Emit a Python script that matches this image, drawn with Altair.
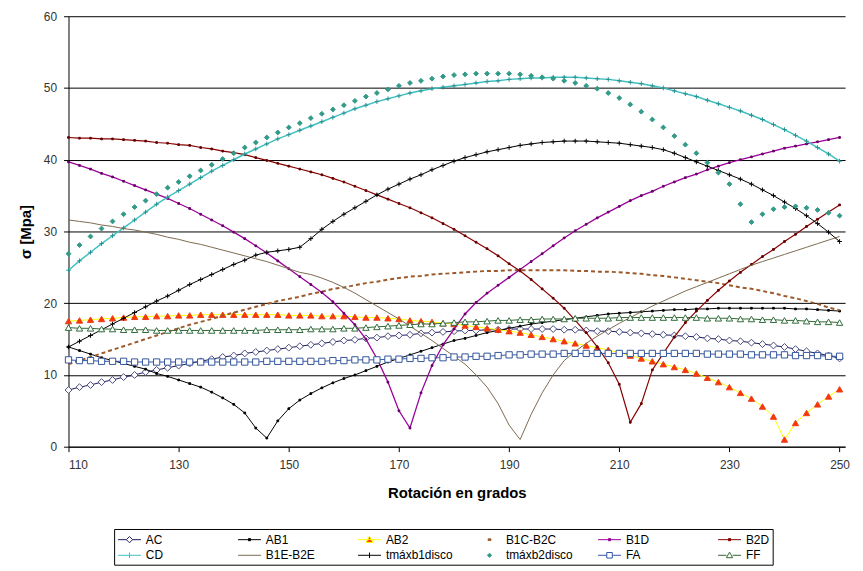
import altair as alt
import pandas as pd

X = list(range(110, 251, 2))

AC = [7.9, 8.3, 8.6, 9.0, 9.3, 9.7, 10.0, 10.4, 10.7, 11.0, 11.3, 11.6, 11.9, 12.2, 12.5, 12.7,
      13.0, 13.2, 13.4, 13.6, 13.8, 14.0, 14.2, 14.4, 14.6, 14.8, 14.9, 15.1, 15.2, 15.4, 15.5,
      15.6, 15.8, 15.9, 16.0, 16.1, 16.2, 16.2, 16.3, 16.3, 16.4, 16.4, 16.4, 16.4, 16.4, 16.3,
      16.3, 16.2, 16.1, 16.1, 16.0, 15.9, 15.8, 15.7, 15.6, 15.5, 15.4, 15.3, 15.1, 15.0, 14.8,
      14.7, 14.5, 14.3, 14.1, 13.9, 13.6, 13.3, 13.0, 12.7, 12.3]
AB1 = [13.9, 13.4, 12.9, 12.4, 12.0, 11.6, 11.2, 10.8, 10.2, 9.8, 9.3, 8.8, 8.3, 7.6, 6.8, 5.9,
       4.7, 2.6, 1.2, 3.6, 5.3, 6.5, 7.4, 8.2, 8.9, 9.5, 10.0, 10.6, 11.2, 11.8, 12.3, 12.8,
       13.3, 13.8, 14.3, 14.8, 15.1, 15.5, 15.9, 16.2, 16.5, 16.8, 17.1, 17.3, 17.5, 17.7, 17.9,
       18.1, 18.3, 18.5, 18.6, 18.7, 18.8, 18.9, 19.0, 19.1, 19.1, 19.2, 19.2, 19.3, 19.3, 19.3,
       19.3, 19.3, 19.3, 19.3, 19.2, 19.2, 19.1, 19.0, 18.9]
AB2 = [17.5, 17.6, 17.7, 17.8, 17.9, 18.0, 18.1, 18.1, 18.2, 18.2, 18.3, 18.3, 18.4, 18.4, 18.4,
       18.4, 18.4, 18.4, 18.4, 18.4, 18.3, 18.3, 18.3, 18.2, 18.2, 18.2, 18.1, 18.0, 18.0, 17.9,
       17.8, 17.6, 17.5, 17.4, 17.2, 17.1, 16.9, 16.7, 16.5, 16.3, 16.1, 15.9, 15.6, 15.3, 15.0,
       14.7, 14.4, 14.1, 13.8, 13.5, 13.1, 12.7, 12.3, 11.9, 11.5, 11.1, 10.7, 10.2, 9.6, 9.0,
       8.3, 7.5, 6.7, 5.6, 4.2, 1.0, 3.3, 4.7, 5.9, 7.0, 8.0]
B1C_B2C = [11.5, 12.0, 12.5, 13.0, 13.5, 14.0, 14.5, 15.0, 15.5, 16.0, 16.5, 17.0, 17.4, 17.8,
           18.3, 18.7, 19.1, 19.5, 19.9, 20.3, 20.6, 20.9, 21.3, 21.6, 22.0, 22.2, 22.5, 22.8,
           23.0, 23.3, 23.5, 23.7, 23.8, 24.0, 24.1, 24.2, 24.3, 24.4, 24.5, 24.5, 24.6, 24.6,
           24.6, 24.6, 24.6, 24.6, 24.5, 24.5, 24.4, 24.4, 24.3, 24.2, 24.1, 23.9, 23.8, 23.6,
           23.4, 23.2, 23.0, 22.8, 22.5, 22.2, 22.0, 21.7, 21.4, 21.0, 20.7, 20.3, 19.9, 19.4, 19.0]
B1D = [39.7, 39.2, 38.7, 38.1, 37.6, 37.0, 36.4, 35.8, 35.2, 34.6, 33.9, 33.2, 32.4, 31.6, 30.8,
       29.9, 29.0, 28.0, 27.0, 25.9, 24.8, 23.7, 22.6, 21.5, 20.2, 18.6, 17.0, 15.0, 12.3, 9.0,
       5.0, 2.6, 7.5, 11.3, 14.2, 16.4, 18.5, 20.1, 21.4, 22.5, 23.6, 24.7, 25.8, 26.9, 28.0,
       29.1, 30.1, 31.0, 31.9, 32.7, 33.5, 34.3, 35.0, 35.6, 36.3, 36.9, 37.5, 38.0, 38.6, 39.1,
       39.6, 40.0, 40.4, 40.8, 41.2, 41.6, 41.9, 42.2, 42.5, 42.8, 43.1]
B2D = [43.1, 43.0, 43.0, 42.9, 42.9, 42.8, 42.7, 42.6, 42.4, 42.3, 42.1, 42.0, 41.7, 41.5, 41.2,
       41.0, 40.7, 40.3, 39.9, 39.5, 39.1, 38.7, 38.3, 37.9, 37.4, 36.9, 36.3, 35.7, 35.1, 34.5,
       33.9, 33.3, 32.6, 31.9, 31.1, 30.3, 29.4, 28.5, 27.6, 26.6, 25.5, 24.5, 23.3, 22.0, 20.7,
       19.3, 17.6, 15.9, 13.9, 11.7, 8.7, 3.4, 6.0, 10.7, 13.0, 15.3, 17.3, 18.9, 20.4, 21.8,
       23.1, 24.3, 25.4, 26.5, 27.5, 28.6, 29.6, 30.7, 31.7, 32.7, 33.7]
CD = [24.6, 25.9, 27.1, 28.3, 29.4, 30.5, 31.6, 32.7, 33.8, 34.8, 35.7, 36.6, 37.5, 38.4, 39.2,
      40.0, 40.8, 41.5, 42.2, 42.9, 43.5, 44.1, 44.7, 45.3, 45.9, 46.5, 47.1, 47.6, 48.1, 48.5,
      48.9, 49.3, 49.6, 49.9, 50.1, 50.3, 50.5, 50.7, 50.9, 51.0, 51.2, 51.3, 51.4, 51.4, 51.5,
      51.5, 51.5, 51.4, 51.3, 51.2, 51.0, 50.8, 50.6, 50.3, 50.0, 49.6, 49.2, 48.8, 48.3, 47.8,
      47.3, 46.8, 46.2, 45.6, 44.9, 44.2, 43.4, 42.6, 41.7, 40.8, 39.8]
B1E_B2E = [31.6, 31.4, 31.2, 30.9, 30.7, 30.4, 30.2, 29.9, 29.6, 29.2, 28.9, 28.5, 28.2, 27.8,
           27.4, 27.0, 26.6, 26.2, 25.8, 25.3, 24.8, 24.3, 24.0, 23.5, 22.9, 22.2, 21.4, 20.5,
           19.6, 18.7, 17.8, 16.8, 15.8, 14.8, 13.7, 12.6, 11.5, 10.0, 8.3, 6.0, 3.0, 1.0, 4.5,
           7.5, 10.0, 12.0, 13.3, 14.4, 15.4, 16.3, 17.2, 18.0, 18.8, 19.6, 20.3, 21.0, 21.7,
           22.3, 22.9, 23.5, 24.1, 24.7, 25.3, 25.8, 26.3, 26.8, 27.3, 27.8, 28.3, 28.8, 29.3]
TMAXB1 = [13.9, 14.7, 15.5, 16.3, 17.1, 17.9, 18.7, 19.5, 20.3, 21.0, 21.8, 22.6, 23.3, 24.0,
          24.7, 25.4, 26.0, 26.7, 27.1, 27.3, 27.5, 27.8, 29.0, 30.3, 31.4, 32.4, 33.3, 34.2,
          35.1, 35.9, 36.6, 37.3, 37.9, 38.6, 39.2, 39.8, 40.3, 40.7, 41.1, 41.4, 41.7, 42.0,
          42.2, 42.4, 42.5, 42.6, 42.6, 42.6, 42.5, 42.4, 42.3, 42.1, 41.9, 41.7, 41.4, 40.9,
          40.3, 39.7, 39.1, 38.5, 37.9, 37.3, 36.6, 35.8, 35.0, 34.1, 33.2, 32.2, 31.1, 29.9, 28.6]
TMAXB2 = [26.9, 28.1, 29.3, 30.4, 31.4, 32.4, 33.4, 34.3, 35.2, 36.1, 36.9, 37.7, 38.5, 39.3,
          40.1, 40.9, 41.7, 42.4, 43.1, 43.8, 44.5, 45.1, 45.8, 46.4, 47.0, 47.6, 48.2, 48.8,
          49.3, 49.8, 50.3, 50.7, 51.0, 51.3, 51.6, 51.8, 51.9, 52.0, 52.0, 52.0, 52.0, 51.9,
          51.7, 51.5, 51.3, 51.0, 50.7, 50.3, 49.9, 49.3, 48.6, 47.7, 46.7, 45.6, 44.5, 43.3,
          42.1, 40.9, 39.6, 38.2, 36.6, 33.8, 31.3, 32.4, 33.1, 33.4, 33.5, 33.3, 33.0, 32.6, 32.2]
FA = [12.1, 12.0, 12.0, 11.9, 11.9, 11.9, 11.8, 11.8, 11.8, 11.8, 11.8, 11.8, 11.8, 11.8, 11.8,
      11.8, 11.8, 11.8, 11.9, 11.9, 11.9, 11.9, 11.9, 11.9, 12.0, 12.0, 12.1, 12.1, 12.1, 12.2,
      12.2, 12.3, 12.3, 12.4, 12.4, 12.5, 12.5, 12.6, 12.6, 12.7, 12.8, 12.8, 12.9, 12.9, 12.9,
      13.0, 13.0, 13.0, 13.0, 13.0, 13.0, 13.0, 13.0, 13.0, 13.0, 13.0, 13.0, 13.0, 12.9, 12.9,
      12.9, 12.9, 12.8, 12.8, 12.8, 12.8, 12.7, 12.7, 12.7, 12.6, 12.6]
FF = [16.6, 16.5, 16.5, 16.4, 16.4, 16.3, 16.3, 16.3, 16.2, 16.2, 16.2, 16.2, 16.2, 16.2, 16.2,
      16.2, 16.2, 16.2, 16.3, 16.3, 16.3, 16.3, 16.4, 16.4, 16.4, 16.5, 16.5, 16.6, 16.7, 16.8,
      16.9, 17.0, 17.1, 17.1, 17.2, 17.3, 17.4, 17.4, 17.5, 17.6, 17.6, 17.7, 17.7, 17.8, 17.8,
      17.8, 17.9, 17.9, 17.9, 17.9, 18.0, 18.0, 18.0, 18.0, 18.0, 18.0, 18.0, 18.0, 17.9, 17.9,
      17.9, 17.8, 17.8, 17.7, 17.7, 17.6, 17.6, 17.5, 17.4, 17.4, 17.3]

SERIES = ["AC", "AB1", "AB2", "B1C-B2C", "B1D", "B2D", "CD", "B1E-B2E",
          "tmáxb1disco", "tmáxb2disco", "FA", "FF"]
DATA = [AC, AB1, AB2, B1C_B2C, B1D, B2D, CD, B1E_B2E, TMAXB1, TMAXB2, FA, FF]

records = [{"x": x, "y": y, "serie": s}
           for s, vals in zip(SERIES, DATA) for x, y in zip(X, vals)]
df = pd.DataFrame(records)

FONT = "Liberation Sans"
PLUS = "M-1,0L1,0M0,-1L0,1"

# line color, line width, dash, marker shape, marker size, marker fill, marker stroke
STYLE = {
    "AC": ("#1a1a5e", 1, None, "diamond", 48, "white", "#4a4a80"),
    "AB1": ("#000000", 1, None, "square", 3, "#000000", "#000000"),
    "AB2": ("#ffff00", 1, None, "triangle-up", 40, "#ff3300", "#e8401c"),
    "B1C-B2C": ("#9c5a2c", 2, [4, 3], None, 0, None, None),
    "B1D": ("#990099", 1.3, None, "square", 3, "#660066", "#660066"),
    "B2D": ("#880000", 1.2, None, "square", 3, "#660000", "#660000"),
    "CD": ("#40c0c0", 1.5, None, PLUS, 22, "transparent", "#2a9090"),
    "B1E-B2E": ("#7b6a4e", 1, None, None, 0, None, None),
    "tmáxb1disco": ("#000000", 1, None, PLUS, 22, "transparent", "#000000"),
    "tmáxb2disco": (None, 1, None, "diamond", 24, "#339988", "#339988"),
    "FA": ("#3355aa", 1, None, "square", 40, "white", "#335599"),
    "FF": ("#336633", 1, None, "triangle-up", 42, "white", "#2e6b3a"),
}

LEG_SHAPES = [
    "M-1.65,0L-0.45,0M0.45,0L1.65,0M0,-0.45L0.45,0L0,0.45L-0.45,0Z",
    "M-1.65,0L1.65,0M-0.15,-0.15L0.15,-0.15L0.15,0.15L-0.15,0.15Z",
    "M-1.65,0L1.65,0M0,-0.5L0.5,0.4L-0.5,0.4Z",
    "M-0.2,-0.12L0.2,-0.12L0.2,0.12L-0.2,0.12Z",
    "M-1.65,0L1.65,0M-0.15,-0.15L0.15,-0.15L0.15,0.15L-0.15,0.15Z",
    "M-1.65,0L1.65,0M-0.15,-0.15L0.15,-0.15L0.15,0.15L-0.15,0.15Z",
    "M-1.65,0L1.65,0M0,-0.4L0,0.4",
    "M-1.65,0L1.65,0",
    "M-1.65,0L1.65,0M0,-0.4L0,0.4",
    "M0,-0.3L0.3,0L0,0.3L-0.3,0Z",
    "M-1.65,0L-0.4,0M0.4,0L1.65,0M-0.4,-0.4L0.4,-0.4L0.4,0.4L-0.4,0.4Z",
    "M-1.65,0L-0.45,0M0.45,0L1.65,0M0,-0.45L0.45,0.35L-0.45,0.35Z",
]
LEG_STROKE = ["#1a1a5e", "#000000", "#ffff00", "#9c5a2c", "#990099", "#880000",
              "#40c0c0", "#7b6a4e", "#000000", "#339988", "#3355aa", "#336633"]
LEG_FILL = ["white", "#000000", "#ff3300", "#9c5a2c", "#990099", "#880000",
            "transparent", "transparent", "transparent", "#339988", "white", "white"]

x_axis = alt.Axis(values=list(range(110, 251, 20)), title="Rotación en grados",
                  titleFont=FONT, titleFontSize=15, titleFontWeight="bold", titleColor="black",
                  titleY=46, titleBaseline="middle",
                  labelFont=FONT, labelFontSize=12, labelColor="#333333", labelPadding=8,
                  tickSize=5, tickColor="black", domainColor="black", grid=False)
y_axis = alt.Axis(values=list(range(0, 61, 10)), title="σ [Mpa]",
                  titleFont=FONT, titleFontSize=15, titleFontWeight="bold", titleColor="black",
                  titleX=-43, titleY=217, titleAlign="center", titleBaseline="middle",
                  titleAngle=270,
                  labelFont=FONT, labelFontSize=12, labelColor="#333333", labelPadding=7,
                  tickSize=5, tickColor="black", domainColor="black",
                  grid=True, gridColor="black", gridWidth=1)

x_enc = alt.X("x:Q", scale=alt.Scale(domain=[110, 251], nice=False, zero=False), axis=x_axis)
y_enc = alt.Y("y:Q", scale=alt.Scale(domain=[0, 60], nice=False), axis=y_axis)

base = alt.Chart(df)
layers = []
for s in SERIES:
    lc, lw, dash, shp, sz, fil, stk = STYLE[s]
    b = base.transform_filter(alt.datum.serie == s)
    if lc:
        kw = dict(color=lc, strokeWidth=lw)
        if dash:
            kw["strokeDash"] = dash
        layers.append(b.mark_line(**kw).encode(x=x_enc, y=y_enc))
    if shp:
        layers.append(b.mark_point(shape=shp, size=sz, filled=True, fill=fil, stroke=stk,
                                   strokeWidth=1, opacity=1).encode(x=x_enc, y=y_enc))

LEG = dict(title=None, orient="none", legendX=46, legendY=517, columns=6, direction="horizontal",
           gridAlign="all", columnPadding=22, rowPadding=2, padding=3, strokeColor="black",
           fillColor="white", labelFont=FONT, labelFontSize=12, labelColor="black",
           symbolSize=196, symbolOffset=5, labelOffset=9, symbolStrokeWidth=1, labelLimit=200)

legend_layer = base.transform_filter("false").mark_point(filled=True, opacity=1, strokeWidth=1).encode(
    x=x_enc, y=y_enc,
    shape=alt.Shape("serie:N", scale=alt.Scale(domain=SERIES, range=LEG_SHAPES), legend=alt.Legend(**LEG)),
    stroke=alt.Stroke("serie:N", scale=alt.Scale(domain=SERIES, range=LEG_STROKE), legend=alt.Legend(**LEG)),
    fill=alt.Fill("serie:N", scale=alt.Scale(domain=SERIES, range=LEG_FILL), legend=alt.Legend(**LEG)),
)
layers.append(legend_layer)

chart = alt.layer(*layers).properties(
    width=783, height=434,
    autosize=alt.AutoSizeParams(type="none"),
    padding={"left": 61, "top": 6, "right": 10, "bottom": 118},
    background="white",
).configure_view(stroke=None)

chart.save("out.html", embed_options={"renderer": "svg", "actions": False})
